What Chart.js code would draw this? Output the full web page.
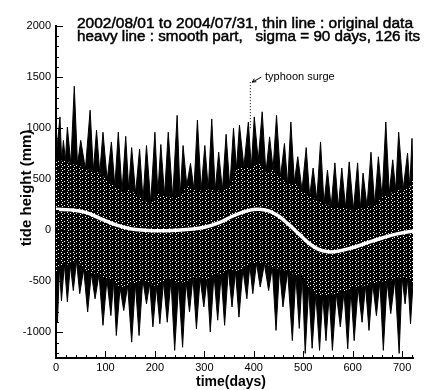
<!DOCTYPE html>
<html>
<head>
<meta charset="utf-8">
<script src="https://cdn.jsdelivr.net/npm/chart.js@4.4.0/dist/chart.umd.min.js"></script>
<style>
  html, body { margin: 0; padding: 0; background: #fff; }
  #wrap { width: 425px; height: 390px; }
</style>
</head>
<body>
<div id="wrap"><canvas id="tideChart" width="425" height="390"></canvas></div>
<script>
  // spring-tide spikes of the upper envelope (day, mm) and the troughs between them
  const highDays = [8, 15, 23, 37, 50, 69, 82, 95, 112, 126, 141, 153, 169, 183, 200, 212, 227, 245, 257, 272,
    286, 301, 315, 329, 344, 359, 371, 389, 401, 417, 432, 446, 462, 475, 489, 506, 520, 535, 549, 564,
    578, 593, 610, 621, 637, 652, 667, 681, 693, 711, 720];
  const highPeaks = [1110, 880, 1010, 1410, 880, 1175, 980, 960, 865, 960, 920, 810, 795, 830, 960, 840, 960, 1125, 830, 655,
    1080, 830, 1090, 765, 940, 1000, 1030, 1060, 1110, 1160, 915, 1125, 850, 1060, 720, 810, 610, 865, 590, 660,
    610, 670, 660, 560, 765, 720, 1060, 690, 960, 755, 900];
  const highTroughs = [680, 680, 650, 640, 600, 580, 560, 490, 430, 380, 400, 360, 300, 270, 360, 340, 320, 330, 440, 400,
    390, 400, 390, 390, 420, 600, 620, 610, 680, 560, 600, 520, 450, 470, 390, 330, 300, 260, 230, 220,
    220, 200, 210, 230, 250, 320, 360, 390, 400, 420];

  // lower envelope: deepest ebbs and the gaps between them
  const lowDays = [3, 11, 23, 35, 48, 64, 79, 95, 111, 122, 137, 153, 168, 183, 196, 210, 225, 240, 256, 270,
    284, 299, 312, 327, 341, 356, 370, 386, 398, 413, 430, 445, 459, 478, 492, 504, 518, 533, 546, 559,
    575, 590, 603, 619, 633, 648, 662, 677, 694, 706, 717];
  const lowPeaks = [-900, -690, -700, -590, -620, -800, -670, -930, -835, -1030, -785, -1095, -1030, -720, -945, -915, -900, -1175, -1145, -800,
    -965, -750, -995, -880, -930, -750, -850, -670, -620, -555, -590, -980, -750, -1080, -960, -1205, -1155, -1175, -1080, -1175,
    -945, -1160, -1080, -900, -980, -835, -1175, -815, -1205, -720, -915];
  const lowTroughs = [-360, -330, -340, -300, -380, -420, -430, -480, -500, -560, -540, -520, -480, -520, -550, -500, -480, -520, -500, -460,
    -470, -480, -430, -430, -380, -400, -380, -340, -320, -330, -360, -380, -400, -440, -440, -560, -620, -640, -630, -620,
    -600, -580, -560, -540, -520, -500, -500, -480, -460, -470];

  const envStart = { day: 0, high: 700, low: -420 };
  const envEnd = { day: 722, high: 520, low: -520 };

  // heavy line: smoothed part (sigma = 90 days)
  const smoothDays = [0, 30, 60, 90, 120, 150, 180, 210, 240, 270, 300, 330, 360, 390, 410, 430, 450, 470, 490, 510,
    530, 550, 570, 600, 630, 660, 690, 722];
  const smoothVals = [205, 200, 175, 115, 55, 15, 0, -5, 0, 10, 30, 75, 145, 195, 206, 190, 140, 60, -30, -120,
    -185, -210, -205, -170, -120, -75, -35, -7];

  // typhoon surge spike
  const surgeDay = 393;
  const surgeLevels = [1000, 1470];

  const xTicks = [0, 100, 200, 300, 400, 500, 600, 700];
  const yTicks = [-1000, -500, 0, 500, 1000, 1500, 2000];

  const FONT = "'Liberation Sans', Arial, Helvetica, sans-serif";

  function envelope(days, peaks, troughs, start, end) {
    const pts = [{ x: envStart.day, y: start }];
    days.forEach(function (d, i) {
      pts.push({ x: d, y: peaks[i] });
      if (i < troughs.length) pts.push({ x: (d + days[i + 1]) / 2, y: troughs[i] });
    });
    pts.push({ x: envEnd.day, y: end });
    return pts;
  }

  function core(days, troughs, start, end) {
    const pts = [{ x: envStart.day, y: start }];
    troughs.forEach(function (t, i) {
      pts.push({ x: (days[i] + days[i + 1]) / 2, y: t });
    });
    pts.push({ x: envEnd.day, y: end });
    return pts;
  }

  // black with scattered white dots, like the dense thin-line trace
  function dotPattern(ctx) {
    const c = document.createElement('canvas');
    c.width = 6;
    c.height = 4;
    const g = c.getContext('2d');
    g.fillStyle = '#000';
    g.fillRect(0, 0, 6, 4);
    g.fillStyle = '#fff';
    g.fillRect(1, 0, 1, 1);
    g.fillRect(4, 1, 1, 1);
    g.fillRect(2, 2, 1, 1);
    return ctx.createPattern(c, 'repeat');
  }

  // inward ticks, minor and major, like the original plot
  const innerTicks = {
    id: 'innerTicks',
    afterDatasetsDraw: function (chart) {
      const ctx = chart.ctx;
      const xs = chart.scales.x;
      const ys = chart.scales.y;
      const area = chart.chartArea;
      ctx.save();
      ctx.strokeStyle = '#000';
      ctx.lineWidth = 1;
      ctx.beginPath();
      for (let v = 0; v <= 720; v += 20) {
        const px = Math.round(xs.getPixelForValue(v)) + 0.5;
        const len = v % 100 === 0 ? 7 : 3;
        ctx.moveTo(px, area.bottom);
        ctx.lineTo(px, area.bottom - len);
      }
      for (let v = -1200; v <= 2000; v += 100) {
        const py = Math.round(ys.getPixelForValue(v)) + 0.5;
        const len = v % 500 === 0 ? 7 : 3;
        ctx.moveTo(area.left, py);
        ctx.lineTo(area.left + len, py);
      }
      ctx.stroke();
      ctx.restore();
    }
  };

  const labels = {
    id: 'labels',
    afterDraw: function (chart) {
      const ctx = chart.ctx;
      const xs = chart.scales.x;
      const ys = chart.scales.y;
      ctx.save();
      ctx.fillStyle = '#000';
      ctx.strokeStyle = '#000';
      ctx.textBaseline = 'alphabetic';
      ctx.textAlign = 'left';
      ctx.font = '15.5px ' + FONT;
      // the scanned title is heavier than a plain regular face
      ctx.lineWidth = 0.5;
      ctx.fillText('2002/08/01 to 2004/07/31, thin line : original data', 77, 28, 336);
      ctx.strokeText('2002/08/01 to 2004/07/31, thin line : original data', 77, 28, 336);
      ctx.fillText('heavy line : smooth part,   sigma = 90 days, 126 its', 77, 41, 343);
      ctx.strokeText('heavy line : smooth part,   sigma = 90 days, 126 its', 77, 41, 343);

      // typhoon surge note with arrow
      const tipX = xs.getPixelForValue(surgeDay) + 2;
      const tipY = ys.getPixelForValue(surgeLevels[1]) + 2;
      ctx.font = '11px ' + FONT;
      ctx.fillText('typhoon surge', 265, 80);
      ctx.lineWidth = 1;
      ctx.beginPath();
      ctx.moveTo(tipX + 9, tipY - 5);
      ctx.lineTo(tipX, tipY);
      ctx.moveTo(tipX, tipY);
      ctx.lineTo(tipX + 4, tipY - 0.5);
      ctx.moveTo(tipX, tipY);
      ctx.lineTo(tipX + 2, tipY - 3.5);
      ctx.stroke();

      ctx.font = 'bold 14px ' + FONT;
      ctx.textAlign = 'center';
      ctx.fillText('time(days)', 231, 386);
      ctx.translate(31, 188);
      ctx.rotate(-Math.PI / 2);
      ctx.font = 'bold 15px ' + FONT;
      ctx.fillText('tide height (mm)', 0, 0);
      ctx.restore();
    }
  };

  function initTideChart() {
    const canvas = document.getElementById('tideChart');
    const ctx = canvas.getContext('2d');
    const pattern = dotPattern(ctx);

    new Chart(canvas, {
      type: 'line',
      data: {
        datasets: [
          {
            label: 'smooth part',
            data: smoothDays.map(function (d, i) { return { x: d, y: smoothVals[i] }; }),
            borderColor: '#fff',
            borderWidth: 3.5,
            pointRadius: 0,
            tension: 0.4,
            fill: false,
            order: 0
          },
          {
            label: 'typhoon surge',
            data: surgeLevels.map(function (v) { return { x: surgeDay, y: v }; }),
            borderColor: '#000',
            borderWidth: 1,
            borderDash: [1, 2],
            pointRadius: 0,
            fill: false,
            order: 1
          },
          {
            label: 'core high',
            data: core(highDays, highTroughs, envStart.high, envEnd.high),
            borderWidth: 0,
            borderColor: 'rgba(0,0,0,0)',
            backgroundColor: pattern,
            pointRadius: 0,
            fill: '+1',
            order: 2
          },
          {
            label: 'core low',
            data: core(lowDays, lowTroughs, envStart.low, envEnd.low),
            borderWidth: 0,
            borderColor: 'rgba(0,0,0,0)',
            pointRadius: 0,
            fill: false,
            order: 2
          },
          {
            label: 'original high',
            data: envelope(highDays, highPeaks, highTroughs, envStart.high, envEnd.high),
            borderColor: '#000',
            borderWidth: 1,
            backgroundColor: '#000',
            pointRadius: 0,
            fill: '+1',
            order: 3
          },
          {
            label: 'original low',
            data: envelope(lowDays, lowPeaks, lowTroughs, envStart.low, envEnd.low),
            borderColor: '#000',
            borderWidth: 1,
            pointRadius: 0,
            fill: false,
            order: 3
          }
        ]
      },
      options: {
        responsive: false,
        animation: false,
        events: [],
        layout: { padding: { top: 26, right: 12, left: 0, bottom: 0 } },
        plugins: {
          legend: { display: false },
          tooltip: { enabled: false },
          title: { display: false }
        },
        scales: {
          x: {
            type: 'linear',
            min: 0,
            max: 722,
            afterFit: function (scale) { scale.height = 32; },
            afterBuildTicks: function (scale) {
              scale.ticks = xTicks.map(function (v) { return { value: v }; });
            },
            ticks: {
              color: '#000',
              font: { family: FONT, size: 11 },
              padding: 3,
              maxRotation: 0,
              callback: function (v) { return String(v); }
            },
            grid: { display: false, drawTicks: false },
            border: { display: true, color: '#000', width: 2 }
          },
          y: {
            type: 'linear',
            min: -1250,
            max: 2000,
            afterFit: function (scale) { scale.width = 56; },
            afterBuildTicks: function (scale) {
              scale.ticks = yTicks.map(function (v) { return { value: v }; });
            },
            ticks: {
              color: '#000',
              font: { family: FONT, size: 11 },
              padding: 5,
              callback: function (v) { return String(v); }
            },
            grid: { display: false, drawTicks: false },
            border: { display: true, color: '#000', width: 2 }
          }
        }
      },
      plugins: [innerTicks, labels]
    });
  }

  document.addEventListener('DOMContentLoaded', initTideChart);
</script>
</body>
</html>
